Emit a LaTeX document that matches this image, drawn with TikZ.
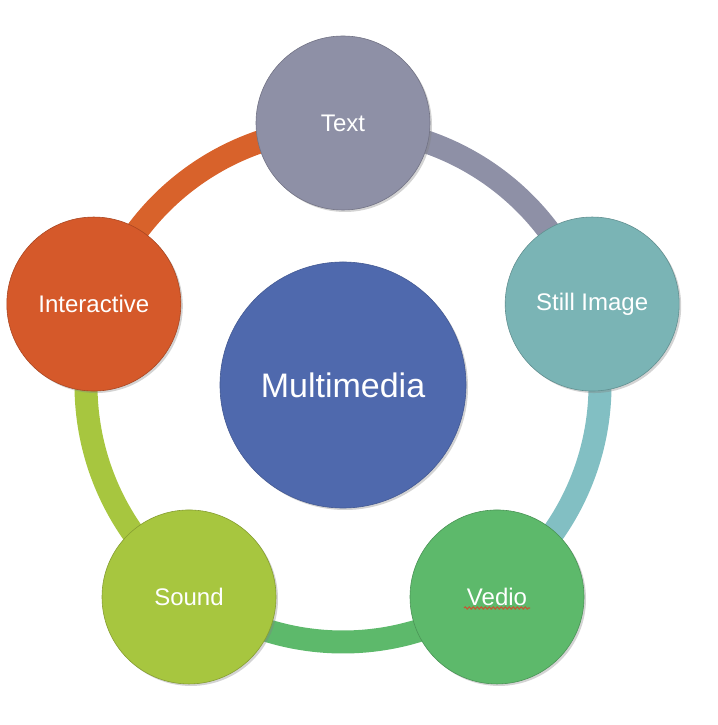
\documentclass[tikz,border=0pt]{standalone}
\usepackage{fontspec}
\setmainfont{Liberation Sans}
\usetikzlibrary{shadows,decorations.pathmorphing,calc}
\definecolor{cText}{HTML}{8E90A6}
\definecolor{cStill}{HTML}{7AB4B5}
\definecolor{cVedio}{HTML}{5DB96B}
\definecolor{cSound}{HTML}{A7C63F}
\definecolor{cInter}{HTML}{D5592A}
\definecolor{cMulti}{HTML}{4F69AD}
\definecolor{cRingT}{HTML}{8E90A6}
\definecolor{cRingS}{HTML}{82BFC3}
\definecolor{cRingI}{HTML}{D8622B}
\definecolor{cSquig}{HTML}{C25A35}
\tikzset{
  bubble/.style={circle, minimum size=174pt, inner sep=0pt, text=white,
    font=\fontsize{24}{28}\selectfont, line width=0.6pt,
    drop shadow={opacity=0.35, shadow xshift=2pt, shadow yshift=-2pt}},
  hub/.style={circle, minimum size=246pt, inner sep=0pt, text=white,
    font=\fontsize{34}{39}\selectfont, fill=cMulti, draw=cMulti!85!black, line width=0.6pt,
    drop shadow={opacity=0.35, shadow xshift=2pt, shadow yshift=-2pt}},
  ring/.style={line width=23pt},
  squiggle/.style={draw=cSquig, line width=1.1pt, decorate,
    decoration={snake, amplitude=1.1pt, segment length=4pt}},
}
\begin{document}
\begin{tikzpicture}[x=1pt,y=1pt]
\useasboundingbox (0,0) rectangle (717,725);
\coordinate (C) at (343,340);
\coordinate (pT) at ($(C)+(90:262)$);
\coordinate (pS) at ($(C)+(18:262)$);
\coordinate (pV) at ($(C)+(-54:262)$);
\coordinate (pD) at ($(C)+(-126:262)$);
\coordinate (pI) at ($(C)+(162:262)$);
\coordinate (rT) at ($(C)+(90:257)$);
\coordinate (rS) at ($(C)+(18:257)$);
\coordinate (rV) at ($(C)+(-54:257)$);
\coordinate (rD) at ($(C)+(-126:257)$);
\coordinate (rI) at ($(C)+(162:257)$);
% ring segments
\draw[ring, cRingI] (rI) arc[start angle=162, end angle=90, radius=257];
\draw[ring, cRingT] (rT) arc[start angle=90, end angle=18, radius=257];
\draw[ring, cRingS] (rS) arc[start angle=18, end angle=-54, radius=257];
\draw[ring, cVedio] (rV) arc[start angle=-54, end angle=-126, radius=257];
\draw[ring, cSound] (rD) arc[start angle=-126, end angle=-198, radius=257];
% hub
\node[hub] (multi) at (C) {Multimedia};
% bubbles
\node[bubble, fill=cText, draw=cText!80!black] (text) at (pT) {Text};
\node[bubble, fill=cStill, draw=cStill!80!black] (still) at (pS) {Still Image};
\node[bubble, fill=cVedio, draw=cVedio!80!black] (vedio) at (pV) {Vedio};
\node[bubble, fill=cSound, draw=cSound!80!black] (sound) at (pD) {Sound};
\node[bubble, fill=cInter, draw=cInter!80!black] (inter) at (pI) {Interactive};
% spell-check squiggle under Vedio
\draw[squiggle] ($(vedio.center)+(-33,-11)$) -- ($(vedio.center)+(33,-11)$);
\end{tikzpicture}
\end{document}
